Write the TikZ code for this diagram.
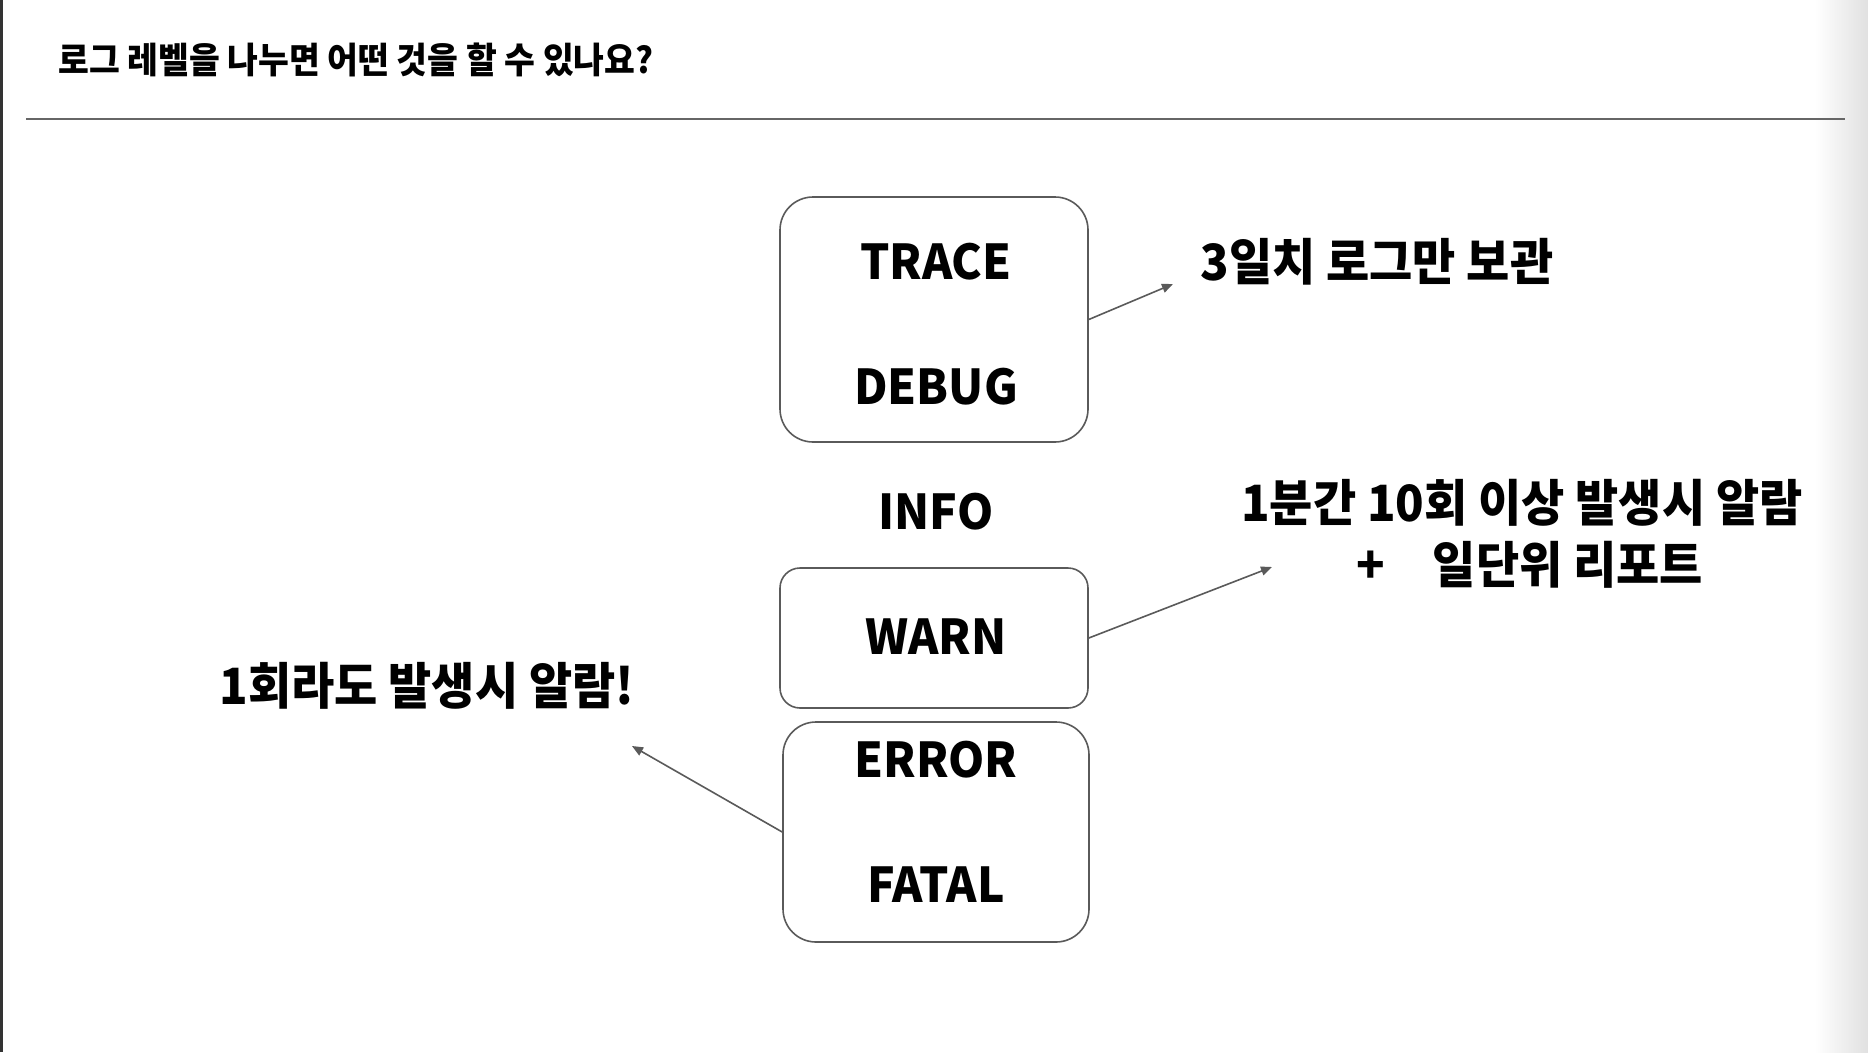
\documentclass[tikz,border=0pt]{standalone}
\usepackage{fontspec}
\setmainfont{Noto Sans CJK KR}
\newfontfamily\krnote{Noto Sans CJK KR}[FakeStretch=0.94]
\newfontfamily\krtitle{Noto Sans CJK KR}[FakeStretch=0.93]
\newfontfamily\krlvl{Noto Sans CJK KR}[FakeStretch=0.96]
\usetikzlibrary{arrows.meta}
\definecolor{edge}{HTML}{5A5A5A}
\definecolor{rule}{HTML}{666666}
\tikzset{
  levelbox/.style={draw=edge, line width=1.6pt, rounded corners=33pt, inner sep=0pt},
  lvl/.style={font=\krlvl\fontsize{48}{58}\selectfont\bfseries, inner sep=0pt},
  note/.style={font=\krnote\fontsize{50}{62}\selectfont\bfseries, inner sep=0pt, align=center},
  conn/.style={draw=edge, line width=1.6pt, -{Triangle[length=11pt,width=9pt]}},
}
\begin{document}
\begin{tikzpicture}[x=1pt,y=-1pt]
\useasboundingbox (0,0) rectangle (1868,1052);
\fill[white] (0,0) rectangle (1868,1052);
\shade[left color=white, right color=black!12] (1815,0) rectangle (1868,1052);
\fill[black!80] (0,0) rectangle (2.5,1052);
\draw[rule, line width=1.6pt] (26,119) -- (1845,119);
\node[anchor=west, inner sep=0pt, font=\krtitle\fontsize{36}{40}\selectfont\bfseries] (title) at (58,60) {로그 레벨을 나누면 어떤 것을 할 수 있나요?};

\node[levelbox, minimum width=308pt, minimum height=245pt] (b1) at (934,319.5) {};
\node[levelbox, rounded corners=20pt, minimum width=308pt, minimum height=140pt] (b2) at (934,638) {};
\node[levelbox, minimum width=306pt, minimum height=220pt] (b3) at (936,832) {};

\node[lvl] (trace) at (936,262) {TRACE};
\node[lvl] (debug) at (936,387) {DEBUG};
\node[lvl] (info) at (936,512) {INFO};
\node[lvl] (warn) at (936,637) {WARN};
\node[lvl] (error) at (936,760) {ERROR};
\node[lvl] (fatal) at (936,885) {FATAL};

\node[note] (n1) at (1377,262) {3일치 로그만 보관};
\node[note] (n2) at (1522,534) {1분간 10회 이상 발생시 알람\\\hspace*{0.32em}+\hspace*{0.95em}일단위 리포트};
\node[note] (n3) at (427,686) {1회라도 발생시 알람!};

\coordinate (t1) at (1173,284);
\coordinate (t2) at (1272,567);
\coordinate (t3) at (632,746);
\draw[conn] (b1.east) -- (t1);
\draw[conn] (b2.east) -- (t2);
\draw[conn] (b3.west) -- (t3);
\end{tikzpicture}
\end{document}
